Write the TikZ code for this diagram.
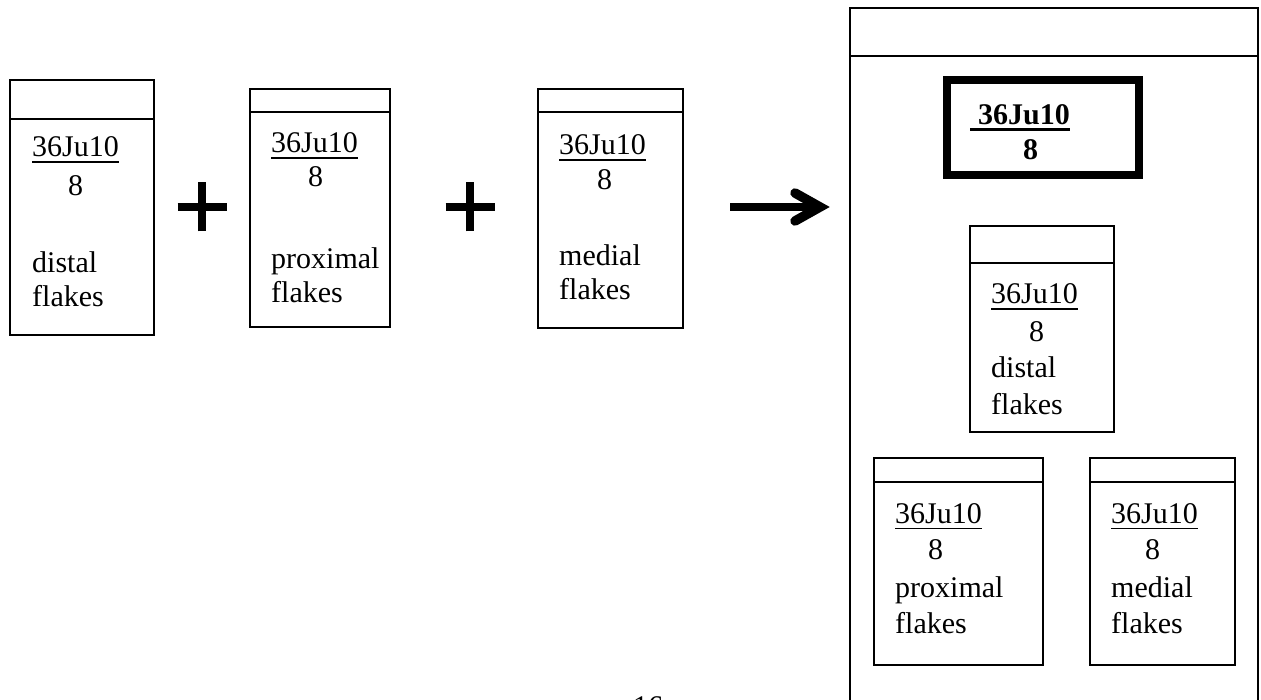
\documentclass[tikz,border=0pt]{standalone}
\usepackage{fontspec}
\setmainfont{Liberation Serif}
\newcommand\uln[2][1.5pt]{\setbox0\hbox{#2}\rlap{\rule[-6pt]{\wd0}{#1}}\box0}
\begin{document}
\begin{tikzpicture}[x=1pt,y=-1pt,
  lbl/.style={anchor=base west, inner sep=0pt, font=\fontsize{30}{36}\selectfont},
  boxline/.style={line width=1.8pt},
  plusbar/.style={line width=8pt},
  arrowline/.style={line width=8pt}]
\useasboundingbox (0,0) rectangle (1261,700);
\clip (0,0) rectangle (1261,700);

% left boxes
\draw[boxline] (10,80) rectangle (154,335);  \draw[boxline] (10,119) -- (154,119);
\draw[boxline] (250,89) rectangle (390,327); \draw[boxline] (250,112) -- (390,112);
\draw[boxline] (538,89) rectangle (683,328); \draw[boxline] (538,112) -- (683,112);

\node[lbl] (a1) at (32,157) {\uln{36Ju10}};
\node[lbl] (a2) at (68,196) {8};
\node[lbl] (a3) at (32,273) {distal};
\node[lbl] (a4) at (32,307) {flakes};

\node[lbl] (p1) at (271,153) {\uln{36Ju10}};
\node[lbl] (p2) at (308,187) {8};
\node[lbl] (p3) at (271,269) {proximal};
\node[lbl] (p4) at (271,303) {flakes};

\node[lbl] (m1) at (559,155) {\uln{36Ju10}};
\node[lbl] (m2) at (597,190) {8};
\node[lbl] (m3) at (559,266) {medial};
\node[lbl] (m4) at (559,300) {flakes};

% plus signs
\coordinate (plusA) at (202,207);
\coordinate (plusB) at (470,207);
\foreach \c in {plusA,plusB}{
  \draw[plusbar] ([xshift=-24.5pt]\c) -- ([xshift=24.5pt]\c);
  \draw[plusbar] ([yshift=-24.5pt]\c) -- ([yshift=24.5pt]\c);
}

% arrow
\coordinate (arS) at (730,207);
\coordinate (arT) at (820,207);
\draw[arrowline] (arS) -- (arT);
\draw[line width=9.5pt, line cap=round, miter limit=4] ([shift={(-25pt,-14pt)}]arT) -- (arT) -- ([shift={(-25pt,14pt)}]arT);

% right big box
\draw[line width=2pt] (850,710) -- (850,8) -- (1258,8) -- (1258,710);
\draw[line width=2pt] (850,56) -- (1258,56);

% bold box
\draw[line width=7.5pt] (947,80) rectangle (1139,175);
\node[lbl, font=\fontsize{30}{36}\selectfont\bfseries] (r1) at (970,125) {\uln[2.5pt]{\hspace*{8pt}36Ju10}};
\node[lbl, font=\fontsize{30}{36}\selectfont\bfseries] (r2) at (1023,160) {8};

% inner distal
\draw[boxline] (970,226) rectangle (1114,432); \draw[boxline] (970,263) -- (1114,263);
\node[lbl] (d1) at (991,304) {\uln{36Ju10}};
\node[lbl] (d2) at (1029,342) {8};
\node[lbl] (d3) at (991,378) {distal};
\node[lbl] (d4) at (991,414) {flakes};

% inner proximal
\draw[boxline] (874,458) rectangle (1043,665); \draw[boxline] (874,482) -- (1043,482);
\node[lbl] (q1) at (895,523) {\uln{36Ju10}};
\node[lbl] (q2) at (928,559) {8};
\node[lbl] (q3) at (895,597) {proximal};
\node[lbl] (q4) at (895,633) {flakes};

% inner medial
\draw[boxline] (1090,458) rectangle (1235,665); \draw[boxline] (1090,482) -- (1235,482);
\node[lbl] (n1) at (1111,523) {\uln{36Ju10}};
\node[lbl] (n2) at (1145,559) {8};
\node[lbl] (n3) at (1111,597) {medial};
\node[lbl] (n4) at (1111,633) {flakes};

% page number (cut off, as in the source)
\node[lbl] (pg) at (633,716) {16};
\end{tikzpicture}
\end{document}
